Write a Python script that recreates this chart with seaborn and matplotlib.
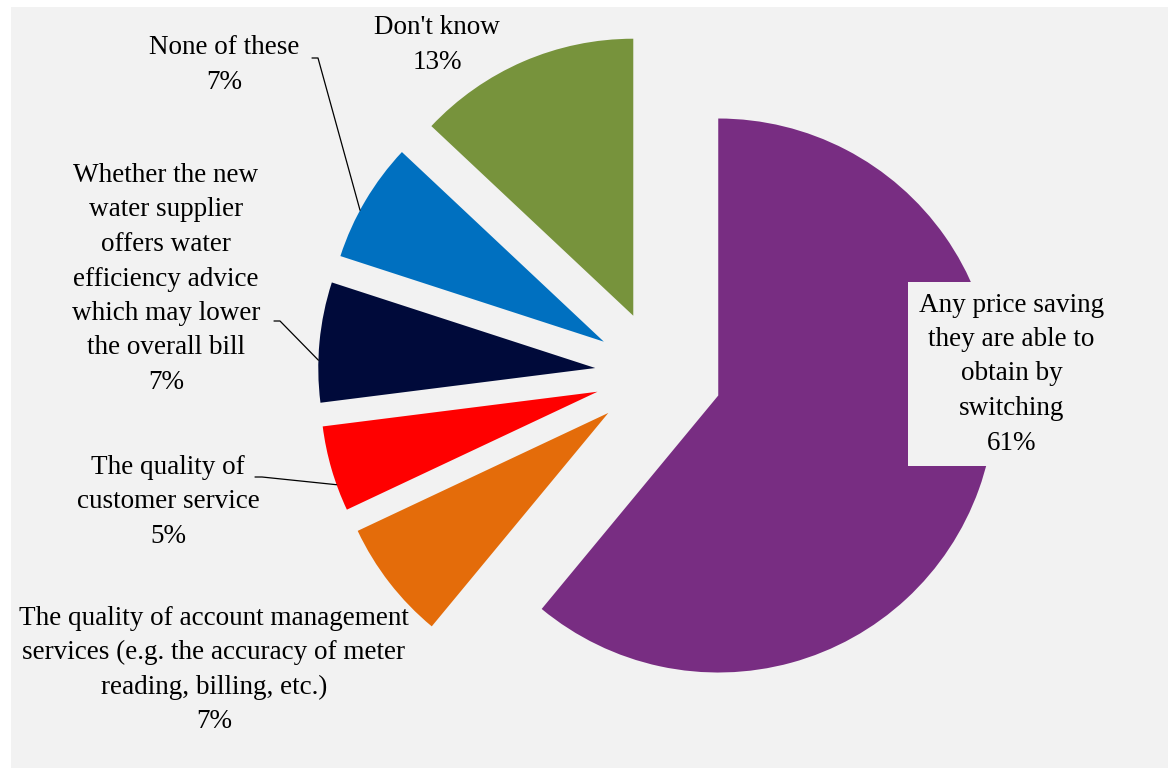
import matplotlib
matplotlib.use("Agg")
import matplotlib.pyplot as plt
import seaborn as sns
import numpy as np
from matplotlib.patches import Rectangle

# Survey answers (clockwise from 12 o'clock) and their shares in percent
categories = [
    "Any price saving\nthey are able to\nobtain by\nswitching",
    "The quality of account management\nservices (e.g. the accuracy of meter\nreading, billing, etc.)",
    "The quality of\ncustomer service",
    "Whether the new\nwater supplier\noffers water\nefficiency advice\nwhich may lower\nthe overall bill",
    "None of these",
    "Don't know",
]
shares = [61, 7, 5, 7, 7, 13]
slice_colors = ["#782D82", "#E46C0A", "#FF0000", "#000A3A", "#0070C0", "#77933C"]

W, H = 1168, 768
sns.set_theme(style="white")
plt.rcParams["font.family"] = ["Liberation Serif", "DejaVu Serif"]
palette = sns.color_palette(slice_colors)

fig = plt.figure(figsize=(W / 100, H / 100), dpi=100, facecolor="white")
fig.patches.append(Rectangle((11 / W, 0), 1 - 11 / W, (H - 7) / H,
                             transform=fig.transFigure, facecolor="#F2F2F2",
                             edgecolor="none", zorder=-10))
ax = fig.add_axes([0, 0, 1, 1])
ax.patch.set_alpha(0)
ax.set_zorder(5)

radius = 277
wedges, _ = ax.pie(shares, radius=radius, center=(658.5, H - 374), startangle=90,
                   counterclock=False, explode=[63.5] * len(shares),
                   colors=palette, wedgeprops=dict(linewidth=0))
ax.set_xlim(0, W)
ax.set_ylim(0, H)
ax.axis("off")

labels = [f"{c}\n{v}%" for c, v in zip(categories, shares)]
# label centres in pixels from the top-left corner
label_pos = [(1011.5, 374), (214, 670), (168, 502), (166, 279), (224, 65), (437, 45)]
fs = 19.5
ls = 1.5
for i, (txt, (px, py)) in enumerate(zip(labels, label_pos)):
    kw = {}
    if i == 0:
        kw["bbox"] = dict(boxstyle="square,pad=0.4", facecolor="#F2F2F2", edgecolor="none")
    ax.text(px, H - py, txt, ha="center", va="center", fontsize=fs,
            linespacing=ls, color="#000000", multialignment="center", **kw)

# leader lines: label side (pixels) -> point on the slice's outer arc
leaders = {4: ((312, 58), (318, 58), 0.59),
           3: ((274, 321), (280, 321), 0.65),
           2: ((255, 477), (262, 477), 0.69)}
for idx, (p0, p1, frac) in leaders.items():
    w = wedges[idx]
    th = np.deg2rad(w.theta1 + frac * (w.theta2 - w.theta1))
    ex = w.center[0] + w.r * np.cos(th)
    ey = w.center[1] + w.r * np.sin(th)
    ax.plot([p0[0], p1[0], ex], [H - p0[1], H - p1[1], ey], color="black", lw=0.9)

fig.savefig("out.png", dpi=100, facecolor=fig.get_facecolor())
